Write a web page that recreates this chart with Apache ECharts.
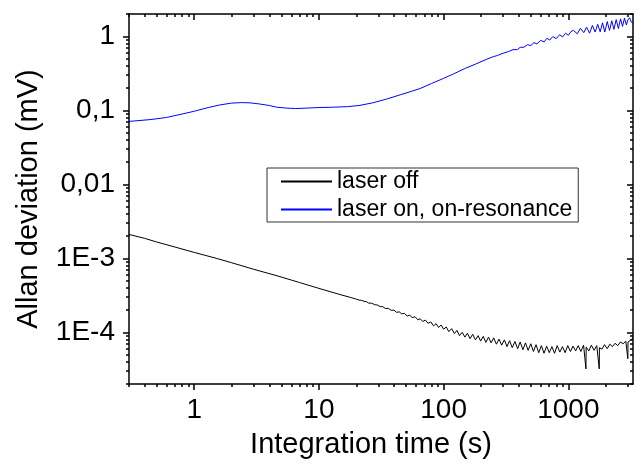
<!DOCTYPE html>
<html>
<head>
<meta charset="utf-8">
<script src="https://cdn.jsdelivr.net/npm/echarts@6.0.0/dist/echarts.min.js"></script>
<style>
  html, body { margin: 0; padding: 0; background: #fff; }
  #chart { width: 635px; height: 464px; }
</style>
</head>
<body>
<div id="chart"></div>
<script>
// ticks
const xMajor = [1, 10, 100, 1000];
const xTickLabels = ['1', '10', '100', '1000'];
const xMinor = [0.3, 0.4, 0.5, 0.6, 0.7, 0.8, 0.9, 2, 3, 4, 5, 6, 7, 8, 9,
    20, 30, 40, 50, 60, 70, 80, 90, 200, 300, 400, 500, 600, 700, 800, 900, 2000, 3000];
const yMajor = [1e-4, 1e-3, 0.01, 0.1, 1];
const yTickLabels = ['1E-4', '1E-3', '0,01', '0,1', '1'];
const yMinor = [2e-5, 3e-5, 4e-5, 5e-5, 6e-5, 7e-5, 8e-5, 9e-5,
    2e-4, 3e-4, 4e-4, 5e-4, 6e-4, 7e-4, 8e-4, 9e-4,
    0.002, 0.003, 0.004, 0.005, 0.006, 0.007, 0.008, 0.009,
    0.02, 0.03, 0.04, 0.05, 0.06, 0.07, 0.08, 0.09,
    0.2, 0.3, 0.4, 0.5, 0.6, 0.7, 0.8, 0.9, 2];

const seriesNames = ['laser off', 'laser on, on-resonance'];
const seriesColors = ['#000000', '#0000ff'];

// laser off (black)
const offTau = [0.3, 0.4, 0.5, 0.7, 1, 1.5, 2, 3, 4.7, 7, 10, 14, 18,
    20, 21, 22, 23, 24, 25, 26.5, 28, 29.5, 31, 32.5, 34, 36, 38, 40, 42, 44, 46, 48.5,
    51, 53.5, 56, 59, 62, 65, 68, 71.5, 75, 79, 83, 87, 91, 95.5, 100, 105, 110, 116,
    122, 128, 134, 141, 148, 155, 163, 171, 180, 189, 198, 208, 218, 229, 240, 252,
    265, 278, 292, 307, 322, 338, 355, 373, 392, 411, 432, 453, 476, 500, 525, 551,
    579, 608, 638, 670, 703, 738, 775, 814, 855, 897, 942, 989, 1040, 1090, 1145,
    1200, 1260, 1325, 1384, 1390, 1460, 1530, 1610, 1690, 1770, 1775, 1860, 1950,
    2050, 2150, 2260, 2370, 2490, 2620, 2750, 2890, 3000, 3010, 3150, 3300];
const offVal = [2.1e-3, 1.86e-3, 1.66e-3, 1.42e-3, 1.2e-3, 1.0e-3, 8.7e-4, 7.1e-4, 5.75e-4, 4.7e-4, 3.92e-4, 3.32e-4, 2.95e-4,
    2.80e-4, 2.72e-4, 2.70e-4, 2.62e-4, 2.60e-4, 2.48e-4, 2.47e-4, 2.36e-4, 2.33e-4, 2.22e-4, 2.22e-4, 2.10e-4, 2.10e-4, 1.98e-4, 1.99e-4, 1.86e-4, 1.89e-4, 1.78e-4, 1.80e-4,
    1.66e-4, 1.70e-4, 1.58e-4, 1.62e-4, 1.48e-4, 1.52e-4, 1.40e-4, 1.46e-4, 1.32e-4, 1.38e-4, 1.22e-4, 1.31e-4, 1.16e-4, 1.25e-4, 1.10e-4, 1.18e-4, 1.02e-4, 1.12e-4,
    9.6e-5, 1.06e-4, 9.0e-5, 1.00e-4, 8.6e-5, 9.7e-5, 8.2e-5, 9.4e-5, 7.9e-5, 9.0e-5, 7.6e-5, 8.8e-5, 7.3e-5, 8.6e-5, 7.2e-5, 8.4e-5,
    6.9e-5, 8.1e-5, 6.7e-5, 7.9e-5, 6.4e-5, 7.7e-5, 6.2e-5, 7.5e-5, 6.0e-5, 7.4e-5, 5.8e-5, 7.2e-5, 5.7e-5, 7.0e-5, 5.5e-5, 6.8e-5,
    5.3e-5, 6.6e-5, 5.2e-5, 6.5e-5, 5.3e-5, 6.4e-5, 5.2e-5, 6.6e-5, 5.4e-5, 6.4e-5, 5.3e-5, 6.6e-5, 5.5e-5, 6.5e-5, 5.6e-5,
    6.6e-5, 5.5e-5, 6.7e-5, 3.2e-5, 6.3e-5, 5.6e-5, 6.7e-5, 5.7e-5, 6.6e-5, 3.2e-5, 6.2e-5, 5.9e-5, 6.8e-5,
    6.0e-5, 6.9e-5, 6.4e-5, 7.1e-5, 6.6e-5, 7.4e-5, 7.0e-5, 7.6e-5, 4.4e-5, 7.4e-5, 7.8e-5, 8.4e-5];

// laser on, on-resonance (blue)
const onTau = [0.3, 0.45, 0.6, 0.8, 1.0, 1.3, 1.6, 2.0, 2.4, 2.8, 3.3, 4.0, 4.6, 5.5, 6.5, 8, 10, 13, 17, 21,
    27, 35, 45, 55, 65, 80, 100, 120, 150, 180, 222, 250, 270, 300, 330, 360, 390, 411, 440, 470,
    500, 530, 560, 600, 640, 673, 710, 750, 800, 850, 900, 950, 1000, 1050,
    1100, 1180, 1250, 1330, 1400, 1480, 1560, 1640, 1720, 1800, 1880, 1960, 2050, 2140, 2230,
    2320, 2420, 2520, 2620, 2720, 2820, 2920, 3000, 3100, 3200, 3300];
const onVal = [0.0707, 0.075, 0.080, 0.089, 0.097, 0.109, 0.118, 0.125, 0.127, 0.126, 0.122, 0.116, 0.110, 0.107, 0.1055, 0.107, 0.109, 0.110, 0.112, 0.116,
    0.126, 0.142, 0.162, 0.180, 0.197, 0.230, 0.270, 0.310, 0.370, 0.420, 0.49, 0.53, 0.55, 0.59, 0.62, 0.66, 0.66, 0.71, 0.71, 0.77,
    0.75, 0.82, 0.79, 0.88, 0.84, 0.94, 0.89, 0.99, 0.93, 1.05, 0.98, 1.10, 1.03, 1.16,
    1.20, 1.08, 1.28, 1.12, 1.33, 1.10, 1.40, 1.14, 1.45, 1.15, 1.52, 1.14, 1.58, 1.20, 1.62,
    1.24, 1.68, 1.27, 1.72, 1.36, 1.76, 1.42, 1.66, 1.78, 1.55, 1.50];

const FONT = "'Liberation Sans', Arial, sans-serif";

function pickLabel(v, majors, labels) {
    for (let i = 0; i < majors.length; i++) {
        if (Math.abs(Math.log10(v) - Math.log10(majors[i])) < 1e-6) return labels[i];
    }
    return '';
}

function logAxis(extra) {
    return Object.assign({
        type: 'log',
        logBase: 10,
        splitLine: { show: false },
        axisLine: { show: false, onZero: false },
        axisLabel: { show: false },
    }, extra);
}

const axisLineStyle = { color: '#000', width: 1.5 };

const chart = echarts.init(document.getElementById('chart'));
chart.setOption({
    animation: false,
    textStyle: { fontFamily: FONT, color: '#000' },
    grid: { left: 129, right: 2, top: 14, bottom: 77 },
    legend: {
        orient: 'vertical',
        left: 267,
        top: 168,
        padding: [2, 6, 1, 13],
        itemGap: 5,
        itemWidth: 51,
        itemHeight: 14,
        itemStyle: { opacity: 0 },
        borderColor: '#333',
        borderWidth: 1,
        textStyle: { fontSize: 23, fontFamily: FONT, color: '#000' },
        data: seriesNames,
    },
    xAxis: [
        logAxis({
            min: 0.3, max: 3300, position: 'bottom',
            axisLine: { show: true, onZero: false, lineStyle: axisLineStyle },
            axisTick: { show: true, inside: false, length: 6, customValues: xMajor, lineStyle: { width: 1.5 } },
            axisLabel: {
                show: true, customValues: xMajor, fontSize: 28, margin: 12, color: '#000', fontFamily: FONT,
                formatter: (v) => pickLabel(v, xMajor, xTickLabels),
            },
            name: 'Integration time (s)', nameLocation: 'middle', nameGap: 46,
            nameTextStyle: { fontSize: 29, color: '#000', fontFamily: FONT, padding: [0, 20, 0, 0] },
        }),
        logAxis({
            min: 0.3, max: 3300, position: 'bottom',
            axisTick: { show: true, inside: false, length: 3, customValues: xMinor, lineStyle: { width: 1.5, color: '#000' } },
        }),
        logAxis({
            min: 0.3, max: 3300, position: 'top',
            axisLine: { show: true, onZero: false, lineStyle: axisLineStyle },
            axisTick: { show: true, inside: true, length: 6, customValues: xMajor, lineStyle: { width: 1.5 } },
        }),
        logAxis({
            min: 0.3, max: 3300, position: 'top',
            axisTick: { show: true, inside: true, length: 3, customValues: xMinor, lineStyle: { width: 1.5, color: '#000' } },
        }),
    ],
    yAxis: [
        logAxis({
            min: 2e-5, max: 2, position: 'left',
            axisLine: { show: true, onZero: false, lineStyle: axisLineStyle },
            axisTick: { show: true, inside: false, length: 6, customValues: yMajor, lineStyle: { width: 1.5 } },
            axisLabel: {
                show: true, customValues: yMajor, fontSize: 28, margin: 14, color: '#000', fontFamily: FONT,
                formatter: (v) => pickLabel(v, yMajor, yTickLabels),
            },
            name: 'Allan deviation (mV)', nameLocation: 'middle', nameGap: 86, nameRotate: 90,
            nameTextStyle: { fontSize: 29, color: '#000', fontFamily: FONT },
        }),
        logAxis({
            min: 2e-5, max: 2, position: 'left',
            axisTick: { show: true, inside: false, length: 3, customValues: yMinor, lineStyle: { width: 1.5, color: '#000' } },
        }),
        logAxis({
            min: 2e-5, max: 2, position: 'right',
            axisLine: { show: true, onZero: false, lineStyle: axisLineStyle },
            axisTick: { show: true, inside: true, length: 6, customValues: yMajor, lineStyle: { width: 1.5 } },
        }),
        logAxis({
            min: 2e-5, max: 2, position: 'right',
            axisTick: { show: true, inside: true, length: 3, customValues: yMinor, lineStyle: { width: 1.5, color: '#000' } },
        }),
    ],
    series: [
        {
            name: seriesNames[0],
            type: 'line',
            xAxisIndex: 0, yAxisIndex: 0,
            symbol: 'none',
            lineStyle: { color: seriesColors[0], width: 1 },
            itemStyle: { color: seriesColors[0] },
            data: offTau.map((t, i) => [t, offVal[i]]),
        },
        {
            name: seriesNames[1],
            type: 'line',
            xAxisIndex: 0, yAxisIndex: 0,
            symbol: 'none',
            lineStyle: { color: seriesColors[1], width: 1 },
            itemStyle: { color: seriesColors[1] },
            data: onTau.map((t, i) => [t, onVal[i]]),
        },
    ],
});
</script>
</body>
</html>
